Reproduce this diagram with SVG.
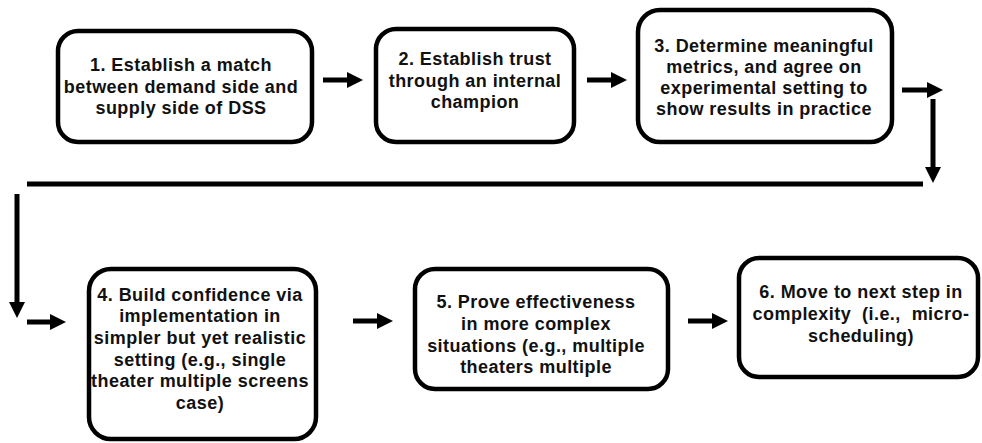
<svg xmlns="http://www.w3.org/2000/svg" width="982" height="443" viewBox="0 0 982 443">
<style>
.box{fill:#fff;stroke:#000;stroke-width:4.5}
.t{font-family:"Liberation Sans",Arial,Helvetica,sans-serif;font-weight:bold;font-size:18px;letter-spacing:0.45px;fill:#111;text-anchor:middle}
.c{fill:none;stroke:#000;stroke-width:5}
</style>
<defs>
<marker id="ah" markerUnits="userSpaceOnUse" markerWidth="16" markerHeight="16" viewBox="0 0 16 16" refX="6" refY="8" orient="auto">
<path d="M0,0 L16,8 L0,16 z" fill="#000"/>
</marker>
</defs>
<rect width="982" height="443" fill="#fff"/>
<g id="connectors">
<line class="c" x1="323" y1="80" x2="353" y2="80" marker-end="url(#ah)"/>
<line class="c" x1="587" y1="80" x2="617" y2="80" marker-end="url(#ah)"/>
<line class="c" x1="902" y1="90" x2="933" y2="90" marker-end="url(#ah)"/>
<line class="c" x1="933" y1="99" x2="933" y2="173" marker-end="url(#ah)"/>
<line class="c" x1="27" y1="184" x2="923" y2="184"/>
<line class="c" x1="17" y1="194" x2="17" y2="308" marker-end="url(#ah)"/>
<line class="c" x1="27" y1="322" x2="56" y2="322" marker-end="url(#ah)"/>
<line class="c" x1="353" y1="321" x2="383" y2="321" marker-end="url(#ah)"/>
<line class="c" x1="688" y1="321" x2="718" y2="321" marker-end="url(#ah)"/>
</g>
<g id="n1">
<rect class="box" x="58" y="31" width="254" height="111" rx="20"/>
<text class="t"><tspan x="181" y="71">1. Establish a match</tspan><tspan x="181" y="92.5">between demand side and</tspan><tspan x="181" y="114">supply side of DSS</tspan></text>
</g>
<g id="n2">
<rect class="box" x="376" y="29" width="198" height="113" rx="20"/>
<text class="t"><tspan x="475" y="65">2. Establish trust</tspan><tspan x="475" y="87">through an internal</tspan><tspan x="475" y="108">champion</tspan></text>
</g>
<g id="n3">
<rect class="box" x="638" y="10" width="254" height="132" rx="22"/>
<text class="t"><tspan x="764" y="52">3. Determine meaningful</tspan><tspan x="764" y="73">metrics, and agree on</tspan><tspan x="764" y="94">experimental setting to</tspan><tspan x="764" y="115">show results in practice</tspan></text>
</g>
<g id="n4">
<rect class="box" x="89" y="269" width="227" height="170" rx="22"/>
<text class="t"><tspan x="200" y="301">4. Build confidence via</tspan><tspan x="200" y="322">implementation in</tspan><tspan x="200" y="344">simpler but yet realistic</tspan><tspan x="200" y="366">setting (e.g., single</tspan><tspan x="200" y="387">theater multiple screens</tspan><tspan x="200" y="409">case)</tspan></text>
</g>
<g id="n5">
<rect class="box" x="415" y="269" width="253" height="120" rx="20"/>
<text class="t"><tspan x="536" y="308">5. Prove effectiveness</tspan><tspan x="536" y="330">in more complex</tspan><tspan x="536" y="352">situations (e.g., multiple</tspan><tspan x="536" y="373">theaters multiple</tspan></text>
</g>
<g id="n6">
<rect class="box" x="739" y="258" width="239" height="119" rx="20"/>
<text class="t" xml:space="preserve" style="white-space:pre"><tspan x="861" y="298">6. Move to next step in</tspan><tspan x="861" y="320">complexity  (i.e.,  micro-</tspan><tspan x="861" y="342">scheduling)</tspan></text>
</g>
</svg>
